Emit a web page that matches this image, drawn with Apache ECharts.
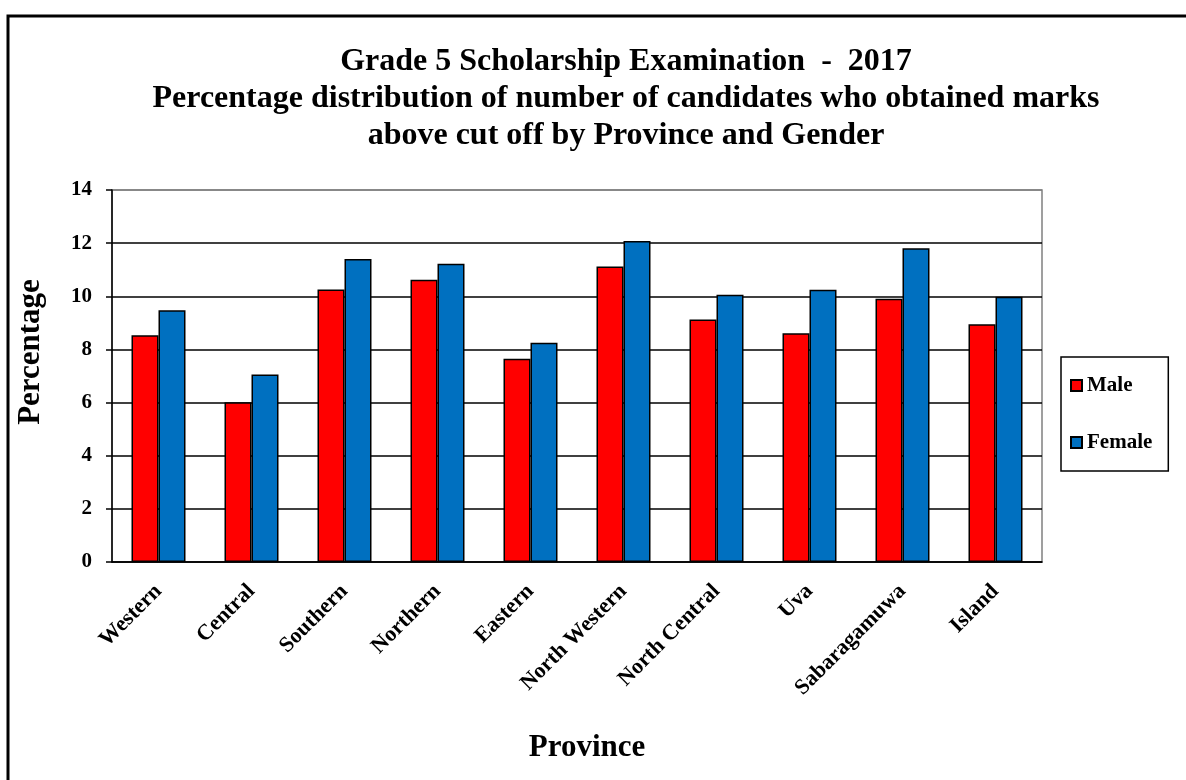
<!DOCTYPE html>
<html>
<head>
  <meta charset="UTF-8">
  <title>Grade 5 Scholarship Examination - 2017</title>
  <style>
    html, body { margin: 0; padding: 0; background: #fff; }
    #chart { width: 1186px; height: 780px; }
  </style>
</head>
<body>
  <div id="chart"></div>
  <script src="https://cdn.jsdelivr.net/npm/echarts@6/dist/echarts.min.js"></script>
  <script>
// data
const provinces = ['Western', 'Central', 'Southern', 'Northern', 'Eastern', 'North Western', 'North Central', 'Uva', 'Sabaragamuwa', 'Island']
const male = [8.53, 6.01, 10.26, 10.62, 7.65, 11.12, 9.13, 8.61, 9.91, 8.95]
const female = [9.47, 7.06, 11.40, 11.22, 8.25, 12.08, 10.06, 10.25, 11.81, 9.98]
const yTicks = [0, 14, 2] // min, max, interval

const font = '"Liberation Serif", "Times New Roman", serif'
const chart = echarts.init(document.getElementById('chart'))

const option = {
  animation: false,
  title: {
    text: 'Grade 5 Scholarship Examination  -  2017\nPercentage distribution of number of candidates who obtained marks\nabove cut off by Province and Gender',
    left: 621,
    textAlign: 'center',
    top: 38,
    textStyle: {
      fontFamily: font,
      fontWeight: 'bold',
      fontSize: 32,
      lineHeight: 37,
      color: '#000'
    }
  },
  graphic: [{
    type: 'rect',
    shape: { x: 8, y: 16, width: 1300, height: 900 },
    style: { fill: 'none', stroke: '#000', lineWidth: 3 }
  }],
  legend: {
    orient: 'vertical',
    left: 1061,
    top: 357,
    itemWidth: 11,
    itemHeight: 11,
    itemGap: 36,
    padding: [18, 16, 18, 9],
    borderColor: '#000',
    borderWidth: 1.5,
    icon: 'rect',
    textStyle: { fontFamily: font, fontWeight: 'bold', fontSize: 21, color: '#000', padding: [0, 0, 0, 0] },
    data: ['Male', 'Female']
  },
  grid: {
    left: 112,
    right: 144,
    top: 190,
    bottom: 218,
    show: true,
    borderColor: '#808080',
    borderWidth: 1.5
  },
  xAxis: {
    type: 'category',
    data: provinces,
    name: 'Province',
    nameLocation: 'middle',
    nameGap: 170,
    nameTextStyle: { fontFamily: font, fontWeight: 'bold', fontSize: 31, color: '#000', padding: [0, 0, 0, 20] },
    axisLine: { lineStyle: { color: '#000', width: 1.5 } },
    axisTick: { length: 6, lineStyle: { color: '#000', width: 1.5 } },
    axisLabel: {
      rotate: 45,
      margin: 26,
      interval: 0,
      fontFamily: font,
      fontWeight: 'bold',
      fontSize: 22,
      color: '#000'
    }
  },
  yAxis: {
    type: 'value',
    min: yTicks[0],
    max: yTicks[1],
    interval: yTicks[2],
    name: 'Percentage',
    nameLocation: 'middle',
    nameRotate: 90,
    nameGap: 66,
    nameTextStyle: { fontFamily: font, fontWeight: 'bold', fontSize: 31, color: '#000', padding: [0, 0, 0, 48] },
    axisLine: { show: true, lineStyle: { color: '#000', width: 1.5 } },
    axisTick: { show: true, length: 6, lineStyle: { color: '#000', width: 1.5 } },
    axisLabel: { margin: 20, fontFamily: font, fontWeight: 'bold', fontSize: 21, color: '#000' },
    splitLine: {
      lineStyle: {
        color: ['#000', '#000', '#000', '#000', '#000', '#000', '#000', '#808080'],
        width: 1.5
      }
    }
  },
  series: [
    {
      name: 'Male',
      type: 'bar',
      data: male,
      barWidth: 27,
      barGap: '0%',
      itemStyle: { color: '#ff0000', borderColor: '#000', borderWidth: 1.5 }
    },
    {
      name: 'Female',
      type: 'bar',
      data: female,
      barWidth: 27,
      barGap: '0%',
      itemStyle: { color: '#0070c0', borderColor: '#000', borderWidth: 1.5 }
    }
  ]
}
chart.setOption(option)
  </script>
</body>
</html>
